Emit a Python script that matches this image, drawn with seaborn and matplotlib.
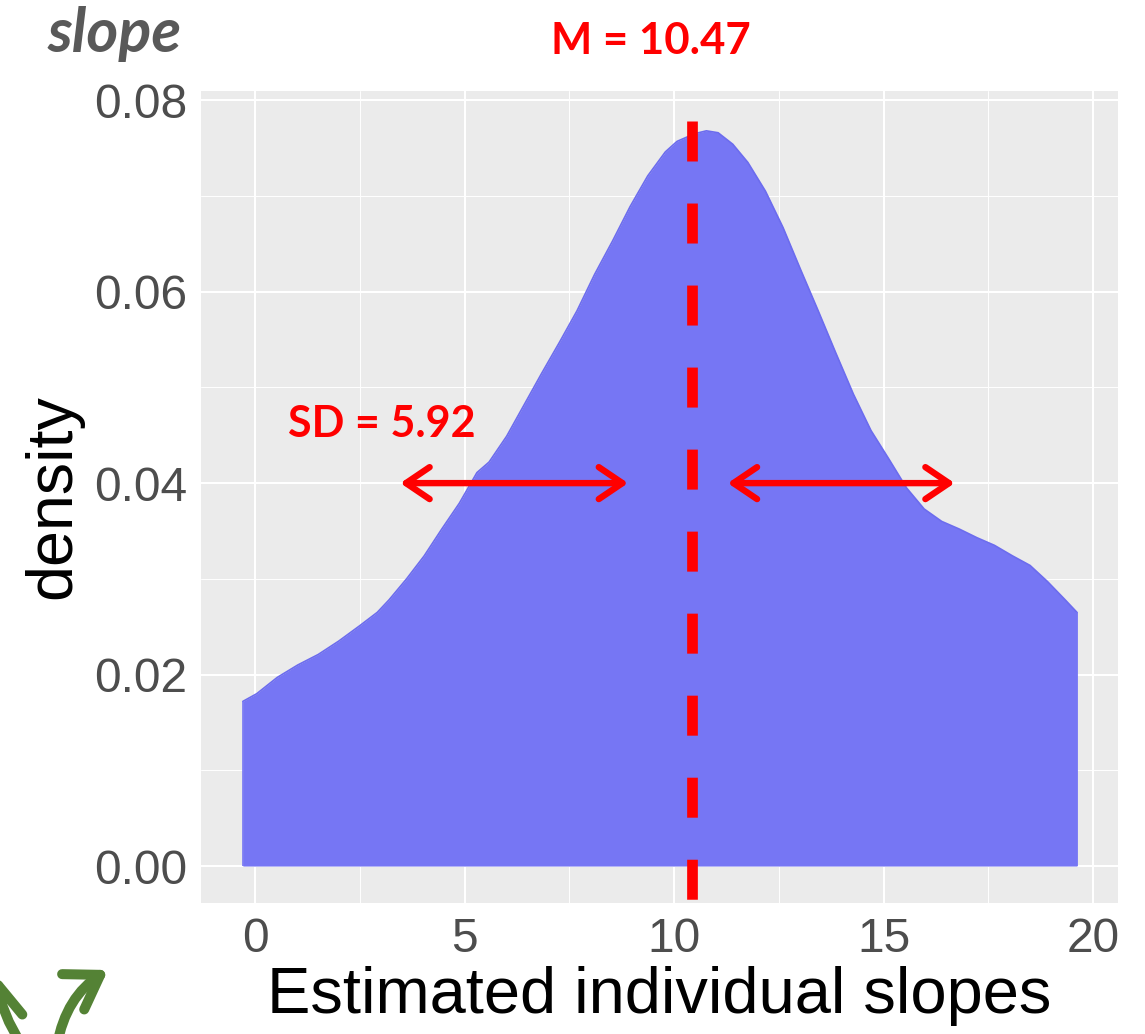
import numpy as np
import pandas as pd
import matplotlib
matplotlib.use("Agg")
import matplotlib.pyplot as plt
import seaborn as sns
from matplotlib.patches import FancyArrowPatch

# ---- data ----
slope_x = [-0.30, 0.03, 0.52, 1.01, 1.50, 1.99, 2.49, 2.91, 3.19, 3.61, 4.03, 4.45,
           4.87, 5.29, 5.58, 6.00, 6.42, 6.84, 7.26, 7.68, 8.10, 8.53, 8.95, 9.37,
           9.79, 10.07, 10.49, 10.77, 11.05, 11.40, 11.76, 12.18, 12.60, 13.02,
           13.44, 13.86, 14.28, 14.70, 15.13, 15.55, 15.97, 16.39, 16.81, 17.23,
           17.65, 18.08, 18.50, 18.92, 19.34, 19.62]
density_y = [0.0172, 0.0180, 0.0197, 0.0210, 0.0221, 0.0235, 0.0251, 0.0265, 0.0278,
             0.0300, 0.0324, 0.0352, 0.0379, 0.0411, 0.0422, 0.0449, 0.0482, 0.0515,
             0.0547, 0.0580, 0.0618, 0.0653, 0.0689, 0.0721, 0.0746, 0.0757, 0.0765,
             0.0768, 0.0766, 0.0754, 0.0735, 0.0705, 0.0667, 0.0623, 0.0580, 0.0536,
             0.0493, 0.0455, 0.0425, 0.0395, 0.0373, 0.0360, 0.0352, 0.0343, 0.0335,
             0.0324, 0.0314, 0.0297, 0.0278, 0.0265]
mean_label = "M = 10.47"
sd_label = "SD = 5.92"
mean_line_x = 10.43
sd_arrows = [(3.46, 8.90), (11.28, 16.70)]
sd_arrow_y = 0.040
x_ticks = [0, 5, 10, 15, 20]
y_ticks = [0.00, 0.02, 0.04, 0.06, 0.08]
y_tick_labels = ["0.00", "0.02", "0.04", "0.06", "0.08"]

df = pd.DataFrame({"slope": slope_x, "density": density_y})

sns.set_theme(style="darkgrid", rc={
    "axes.facecolor": "#EBEBEB",
    "grid.color": "white",
    "axes.edgecolor": "#EBEBEB",
})
plt.rcParams["font.family"] = ["Liberation Sans", "DejaVu Sans"]

W, H = 1145, 1034
fig = plt.figure(figsize=(W / 100, H / 100), dpi=100)
fig.patch.set_facecolor("white")
L, R, T, B = 201, 1118, 91, 903
ax = fig.add_axes([L / W, 1 - B / H, (R - L) / W, (B - T) / H])

fill_col = "#7676F4"
ax.fill_between(df["slope"], 0, df["density"], color=fill_col, linewidth=0, zorder=2)
sns.lineplot(data=df, x="slope", y="density", ax=ax, color="#6C6CEE", linewidth=1.2,
             zorder=3, sort=False)
ax.vlines([df["slope"].iloc[0], df["slope"].iloc[-1]], 0,
          [df["density"].iloc[0], df["density"].iloc[-1]], color=fill_col, lw=1.2, zorder=3)

ax.set_xlim(-1.3, 20.6)
ax.set_ylim(-0.00386, 0.08096)
ax.set_xticks(x_ticks)
ax.set_xticks([2.5, 7.5, 12.5, 17.5], minor=True)
ax.set_yticks(y_ticks)
ax.set_yticklabels(y_tick_labels)
ax.set_yticks([0.01, 0.03, 0.05, 0.07], minor=True)
ax.grid(which="major", color="white", linewidth=1.5)
ax.grid(which="minor", color="white", linewidth=0.7)
ax.set_axisbelow(True)
for s in ax.spines.values():
    s.set_visible(False)
ax.tick_params(axis="both", which="major", length=5, width=1.1, color="#333333",
               labelsize=34.5, labelcolor="#4D4D4D", pad=5)
ax.tick_params(axis="both", which="minor", length=0)
ax.set_xlabel("Estimated individual slopes", fontsize=46.8, color="black", labelpad=3)
ax.set_ylabel("density", fontsize=46.5, color="black", labelpad=8)

# mean dashed line (drawn from top down so the dash pattern starts at the top)
ax.plot([mean_line_x, mean_line_x], [0.0778, -0.00386], color="red", lw=7.7,
        dashes=(3.74, 3.93), solid_capstyle="butt", dash_capstyle="butt", zorder=5)

# SD arrows
for x0, x1 in sd_arrows:
    arr = FancyArrowPatch((x0, sd_arrow_y), (x1, sd_arrow_y),
                          arrowstyle="<->,head_length=17,head_width=11.5",
                          mutation_scale=1, color="red", lw=4.6,
                          capstyle="round", joinstyle="round", zorder=6,
                          shrinkA=0, shrinkB=0)
    ax.add_patch(arr)

ax.text(3.01, 0.0462, sd_label, color="red", fontsize=31, fontweight="bold",
        family=["Lato", "DejaVu Sans"], ha="center", va="center", zorder=6)

def fx(px):
    return px / W

def fy(py):
    return 1 - py / H

fig.text(fx(651), fy(41), mean_label, color="red", fontsize=31.5, fontweight="bold",
         family=["Lato", "DejaVu Sans"], ha="center", va="center")
fig.text(fx(115), fy(34), "slope", color="#595959", fontsize=44, fontweight="bold",
         style="italic", family=["Lato", "DejaVu Sans"], ha="center", va="center")

# green decorative arrows at lower left (cropped)
green = "#548235"
for start, end, rad in [((22, 1045), (-3, 976), -0.12), ((57, 1045), (108, 970), -0.22)]:
    a = FancyArrowPatch((fx(start[0]), fy(start[1])), (fx(end[0]), fy(end[1])),
                        transform=fig.transFigure, connectionstyle=f"arc3,rad={rad}",
                        arrowstyle="->,head_length=23,head_width=15", mutation_scale=1,
                        color=green, lw=7.2, capstyle="round", joinstyle="round",
                        shrinkA=0, shrinkB=0)
    fig.patches.append(a)

fig.savefig("out.png", dpi=100, facecolor="white")
